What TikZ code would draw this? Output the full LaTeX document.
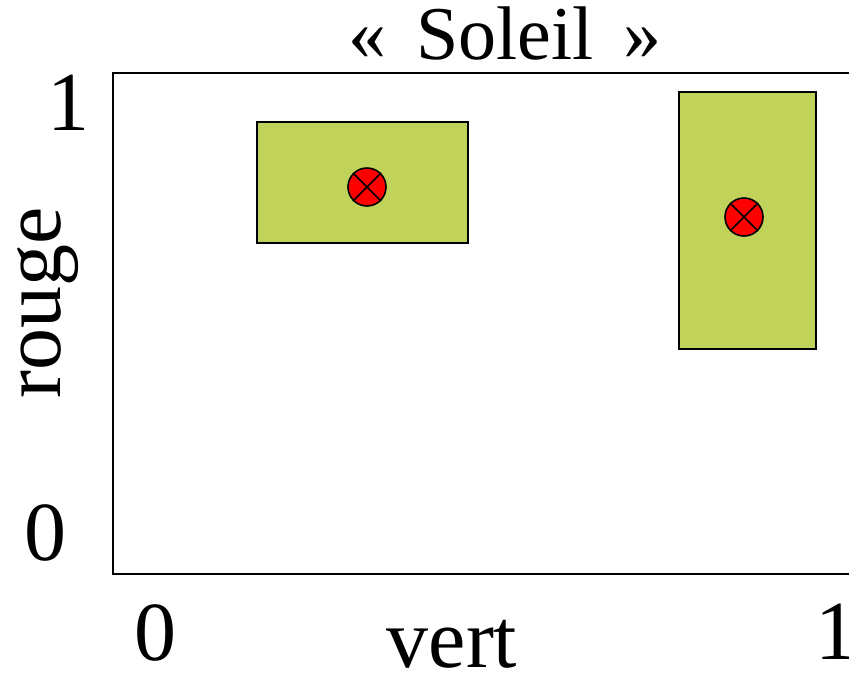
\documentclass[tikz,border=0pt]{standalone}
\usepackage{fontspec}
\setmainfont{Liberation Serif}
\definecolor{boxgreen}{RGB}{192,210,90}
\begin{document}
\begin{tikzpicture}[x=1pt,y=-1pt,
  zone/.style={draw=black,line width=1.6pt,fill=boxgreen},
  pt/.style={draw=black,line width=1.6pt,fill=red,circle,minimum size=38pt,inner sep=0pt},
  lbl/.style={font=\fontsize{84}{84}\selectfont,inner sep=0pt}]
\useasboundingbox (0,0) rectangle (849,678);
\draw[line width=2pt] (849,73) -- (113,73) -- (113,574) -- (849,574);
\draw[zone] (257,122) rectangle (468,243);
\draw[zone] (679,92) rectangle (816,349);
\node[pt] (p1) at (367,187) {};
\node[pt] (p2) at (744,217) {};
\foreach \p in {p1,p2}{
  \draw[line width=1.6pt] (\p.45) -- (\p.225);
  \draw[line width=1.6pt] (\p.135) -- (\p.315);
}
\node[font=\fontsize{76}{76}\selectfont,inner sep=0pt,anchor=base] (title) at (505,59) {«\hspace{30pt}Soleil\hspace{30pt}»};
\node[lbl,anchor=base] (y1) at (68,130) {1};
\node[lbl,anchor=base] (y0) at (45,560) {0};
\node[lbl,anchor=base] (x0) at (155,660) {0};
\node[lbl,anchor=base] (x1) at (836,659) {1};
\node[lbl,anchor=base] (xl) at (452,667) {vert};
\node[lbl,anchor=base,rotate=90] (yl) at (60,303) {rouge};
\end{tikzpicture}
\end{document}
